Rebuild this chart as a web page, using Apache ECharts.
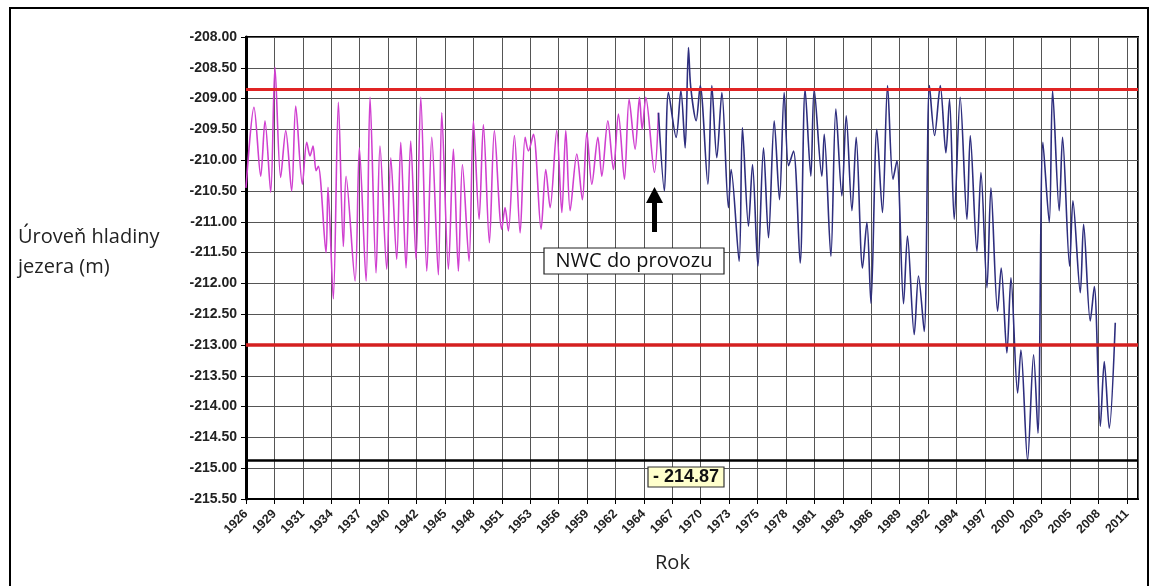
<!DOCTYPE html>
<html>
<head>
<meta charset="utf-8">
<script src="https://cdn.jsdelivr.net/npm/echarts@6/dist/echarts.min.js"></script>
<style>
html,body{margin:0;padding:0;background:#fff;}
#chart{width:1153px;height:586px;}
</style>
</head>
<body>
<div id="chart"></div>
<script>
// ---- data ----
const START_YEAR = 1926;
const TICK_STEP = 1000 / 365.25; // years between ticks (1000 days)
const tickLabels = ['1926','1929','1931','1934','1937','1940','1942','1945','1948','1951','1953','1956','1959','1962','1964','1967','1970','1973','1975','1978','1981','1983','1986','1989','1992','1994','1997','2000','2003','2005','2008','2011'];

const pinkYears = [1926.00,1926.77,1927.42,1927.83,1928.38,1928.79,1929.34,1929.83,1930.40,1930.79,1931.43,1931.85,1932.17,1932.46,1932.75,1932.97,1933.71,1933.90,1934.41,1934.90,1935.38,1935.64,1936.51,1936.92,1937.57,1937.95,1938.53,1938.91,1939.56,1939.95,1940.52,1940.91,1941.42,1941.87,1942.38,1942.84,1943.42,1943.90,1944.53,1944.86,1945.50,1945.98,1946.46,1946.85,1947.49,1947.91,1948.46,1948.87,1949.45,1949.93,1950.64,1950.96,1951.28,1951.86,1952.41,1952.89,1953.21,1953.69,1954.43,1954.88,1955.30,1955.94,1956.43,1956.81,1957.23,1957.87,1958.41,1958.84,1959.32,1959.90,1960.28,1960.86,1961.40,1961.88,1962.46,1962.91,1963.49,1963.91,1964.17,1964.52,1965.35,1965.74];
const pinkLevels = [-210.45,-209.14,-210.26,-209.36,-210.52,-208.49,-210.28,-209.52,-210.50,-209.12,-210.39,-209.71,-209.93,-209.77,-210.17,-210.10,-211.50,-210.44,-212.25,-209.06,-211.40,-210.26,-211.96,-209.80,-211.96,-208.98,-211.83,-209.77,-211.77,-209.96,-211.61,-209.71,-211.75,-209.69,-211.61,-208.98,-211.80,-209.63,-211.86,-209.23,-211.77,-209.82,-211.80,-210.07,-211.64,-209.36,-210.96,-209.42,-211.34,-209.52,-211.12,-210.77,-211.15,-209.60,-211.18,-209.63,-209.85,-209.58,-211.12,-210.15,-210.77,-209.52,-210.85,-209.52,-210.82,-209.90,-210.64,-209.55,-210.39,-209.63,-210.26,-209.36,-210.15,-209.25,-210.31,-209.01,-209.82,-208.98,-209.50,-208.98,-210.20,-209.23];

const blueYears = [1965.74,1966.31,1966.70,1967.44,1967.90,1968.31,1968.63,1968.84,1969.37,1969.76,1970.50,1970.88,1971.36,1971.85,1972.48,1972.74,1973.51,1973.83,1974.41,1974.80,1975.32,1975.86,1976.34,1976.89,1977.40,1977.85,1978.27,1978.75,1979.39,1979.87,1980.42,1980.74,1981.48,1981.71,1982.35,1982.83,1983.41,1983.83,1984.38,1984.79,1985.40,1985.82,1986.21,1986.78,1987.32,1987.81,1988.33,1988.71,1989.35,1989.73,1990.38,1990.79,1991.34,1991.85,1992.34,1992.89,1993.43,1993.78,1994.23,1994.81,1995.46,1995.78,1996.42,1996.81,1997.39,1997.77,1998.41,1998.76,1999.31,1999.70,2000.34,2000.66,2001.30,2001.88,2002.30,2002.78,2003.39,2003.71,2004.35,2004.67,2005.35,2005.67,2006.38,2006.70,2007.34,2007.73,2008.31,2008.69,2009.17,2009.75];
const blueLevels = [-209.23,-210.50,-208.90,-209.63,-208.87,-209.80,-208.17,-208.80,-209.36,-208.79,-210.39,-208.79,-209.96,-208.90,-210.77,-210.15,-211.64,-209.47,-211.07,-210.07,-211.72,-209.80,-211.26,-209.36,-210.64,-208.90,-210.09,-209.85,-211.67,-208.85,-210.26,-208.85,-210.26,-209.58,-211.56,-209.17,-210.58,-209.28,-210.82,-209.63,-211.75,-211.01,-212.32,-209.50,-210.85,-208.79,-210.31,-210.01,-212.33,-211.23,-212.83,-211.88,-212.78,-208.79,-209.60,-208.79,-209.88,-209.01,-210.96,-208.98,-210.96,-209.60,-211.48,-210.20,-212.07,-210.45,-212.45,-211.75,-213.13,-211.91,-213.78,-213.08,-214.87,-213.16,-214.43,-209.71,-211.01,-208.87,-210.82,-209.63,-211.72,-210.66,-212.15,-211.04,-212.61,-212.05,-214.32,-213.27,-214.35,-212.64];

const redUpper = -208.85;
const redLower = -213.0;
const blackLine = -214.87;
const blackLineLabel = '- 214.87';

const yMin = -215.5, yMax = -208.0, yStep = 0.5;
const xMaxYears = 85.94;

// ---- chart ----
const chart = echarts.init(document.getElementById('chart'));
const toXY = (years, levels) => years.map((y, i) => [y - START_YEAR, levels[i]]);

chart.setOption({
  animation: false,
  backgroundColor: '#fff',
  grid: { left: 246, right: 15, top: 37, bottom: 87, show: true, borderColor: '#000', borderWidth: 2, backgroundColor: 'transparent' },
  xAxis: {
    type: 'value', min: 0, max: xMaxYears, interval: TICK_STEP,
    axisLine: { show: true, onZero: false, lineStyle: { color: '#000', width: 2 } },
    axisTick: { show: true, length: 5, lineStyle: { color: '#000', width: 1 } },
    splitLine: { show: true, lineStyle: { color: '#555', width: 1 } },
    axisLabel: {
      rotate: 45, margin: 13, showMaxLabel: false,
      fontFamily: 'Liberation Sans', fontWeight: 'bold', fontSize: 12.5, color: '#222',
      formatter: function (v) {
        const k = v / TICK_STEP; const i = Math.round(k);
        if (Math.abs(k - i) > 0.02) return '';
        return tickLabels[i] || '';
      }
    }
  },
  yAxis: {
    type: 'value', min: yMin, max: yMax, interval: yStep,
    axisLine: { show: true, lineStyle: { color: '#000', width: 3 } },
    axisTick: { show: true, length: 5, lineStyle: { color: '#000', width: 1 } },
    splitLine: { show: true, lineStyle: { color: '#555', width: 1 } },
    axisLabel: {
      margin: 9, fontFamily: 'Liberation Sans', fontWeight: 'bold', fontSize: 14, color: '#222',
      formatter: v => v.toFixed(2)
    }
  },
  series: [
    {
      type: 'line', data: toXY(pinkYears, pinkLevels), showSymbol: false, smooth: 0.3,
      lineStyle: { color: '#d040d0', width: 1.6 }, z: 3
    },
    {
      type: 'line', data: toXY(blueYears, blueLevels), showSymbol: false, smooth: 0.3,
      lineStyle: { color: '#2e2e7e', width: 1.6 }, z: 3,
      markLine: {
        silent: true, symbol: 'none', label: { show: false },
        data: [
          { yAxis: redUpper, lineStyle: { color: '#e02424', width: 3, type: 'solid' } },
          { yAxis: redLower, lineStyle: { color: '#d42020', width: 3.5, type: 'solid' } },
          { yAxis: blackLine, lineStyle: { color: '#000', width: 2.5, type: 'solid' } }
        ]
      }
    }
  ],
  graphic: [
    { type: 'rect', shape: { x: 10, y: 8, width: 1138, height: 600 }, style: { fill: 'none', stroke: '#000', lineWidth: 2 }, silent: true, z: 0 },
    { type: 'text', left: 18, top: 222, style: { text: 'Úroveň hladiny\njezera (m)', font: '20px "Open Sans"', fill: '#222', lineHeight: 30 } },
    { type: 'text', left: 655, top: 553, style: { text: 'Rok', font: '20px "Open Sans"', fill: '#222' } },
    // arrow
    { type: 'rect', shape: { x: 652, y: 200, width: 5, height: 32 }, style: { fill: '#000' }, z: 10 },
    { type: 'polygon', shape: { points: [[646, 203], [654.5, 187], [663, 203]] }, style: { fill: '#000' }, z: 10 },
    // NWC box
    { type: 'rect', shape: { x: 544, y: 248, width: 180, height: 26 }, style: { fill: '#fff', stroke: '#222', lineWidth: 1.2 }, z: 10 },
    { type: 'text', x: 634, y: 261, style: { text: 'NWC do provozu', font: '20px "Open Sans"', fill: '#111', align: 'center', verticalAlign: 'middle' }, z: 11 },
    // -214.87 box
    { type: 'rect', shape: { x: 648, y: 467, width: 76, height: 20 }, style: { fill: '#ffffcc', stroke: '#333', lineWidth: 1.2 }, z: 10 },
    { type: 'text', x: 686, y: 477, style: { text: blackLineLabel, font: 'bold 18px "Liberation Sans"', fill: '#111', align: 'center', verticalAlign: 'middle' }, z: 11 }
  ]
});
</script>
</body>
</html>
